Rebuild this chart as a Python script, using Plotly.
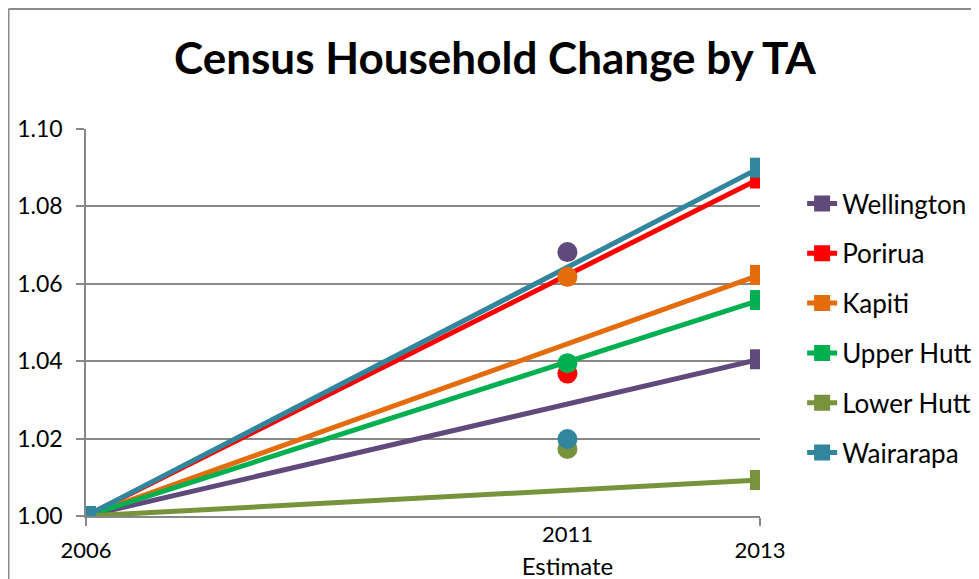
import plotly.graph_objects as go

# ---- data ----
series = ["Wellington", "Porirua", "Kapiti", "Upper Hutt", "Lower Hutt", "Wairarapa"]
colors = ["#604A7B", "#FF0000", "#E46C0A", "#00B050", "#77933C", "#31859C"]
census_years = [2006, 2013]
census_values = {
    "Wellington": [1.000, 1.0405],
    "Porirua": [1.000, 1.0872],
    "Kapiti": [1.000, 1.0623],
    "Upper Hutt": [1.000, 1.0558],
    "Lower Hutt": [1.000, 1.0093],
    "Wairarapa": [1.000, 1.0900],
}
estimate_year = [2011]
estimate_values = {
    "Wellington": [1.0682],
    "Porirua": [1.0368],
    "Kapiti": [1.0618],
    "Upper Hutt": [1.0395],
    "Lower Hutt": [1.0173],
    "Wairarapa": [1.0199],
}
y_ticks = [1.00, 1.02, 1.04, 1.06, 1.08, 1.10]
x_main_ticks = [2006, 2013]
x_main_labels = ["2006", "2013"]
x_est_ticks = [2011]
x_est_labels = ["2011"]
x_est_sub_labels = ["Estimate"]

FONT = "Lato"
GRID = "#878787"

fig = go.Figure()
for name, col in zip(series, colors):
    fig.add_trace(go.Scatter(
        x=census_years, y=census_values[name], name=name, mode="lines+markers",
        line=dict(color=col, width=5),
        marker=dict(symbol="square", size=20, color=col),
        legendgroup=name, hoverinfo="skip",
    ))
for name, col in zip(series, colors):
    fig.add_trace(go.Scatter(
        x=estimate_year, y=estimate_values[name], name=name + " estimate",
        mode="markers", marker=dict(symbol="circle", size=20, color=col),
        showlegend=False, xaxis="x2", yaxis="y", hoverinfo="skip",
    ))
# invisible carrier so the "Estimate" label axis is drawn
fig.add_trace(go.Scatter(
    x=estimate_year, y=estimate_values[series[0]], mode="markers",
    marker=dict(opacity=0, size=1), showlegend=False, xaxis="x3", yaxis="y", hoverinfo="skip",
))

fig.update_layout(
    width=971, height=571,
    margin=dict(l=78, r=219, t=121, b=63, autoexpand=False),
    paper_bgcolor="white", plot_bgcolor="white",
    font=dict(family=FONT, color="#000000", size=22),
    title=dict(text="<b>Census Household Change by TA</b>", x=0.5015, xanchor="center",
               y=0.9116, yanchor="middle", font=dict(family=FONT, size=44, color="#000000")),
    xaxis=dict(range=[2006, 2013], tickmode="array", tickvals=x_main_ticks, ticktext=x_main_labels,
               showgrid=False, zeroline=False, showline=True, linecolor=GRID, linewidth=1.5,
               ticks="outside", ticklen=8, tickcolor=GRID, tickwidth=1.5, automargin=False,
               ticklabelstandoff=6, tickfont=dict(size=22, family=FONT, color="#000000")),
    xaxis2=dict(range=[2006, 2013], overlaying="x", matches="x", side="bottom", anchor="y",
                tickmode="array", tickvals=x_est_ticks, ticktext=x_est_labels,
                showgrid=False, zeroline=False, showline=False, ticks="", ticklen=0,
                automargin=False, ticklabelstandoff=3,
                tickfont=dict(size=22, family=FONT, color="#000000")),
    xaxis3=dict(range=[2006, 2013], overlaying="x", matches="x", side="bottom", anchor="y",
                tickmode="array", tickvals=x_est_ticks, ticktext=x_est_sub_labels,
                showgrid=False, zeroline=False, showline=False, ticks="", ticklen=0,
                automargin=False, ticklabelstandoff=34,
                tickfont=dict(size=24, family=FONT, color="#000000")),
    yaxis=dict(range=[1.0, 1.10], tickmode="array", tickvals=y_ticks,
               tickformat=".2f", showgrid=True, gridcolor=GRID, gridwidth=1.5,
               zeroline=False, showline=True, linecolor=GRID, linewidth=1.5,
               ticks="outside", ticklen=8, tickcolor=GRID, tickwidth=1.5, automargin=False,
               ticklabelstandoff=9, tickfont=dict(size=23, family=FONT, color="#000000")),
    legend=dict(x=1.0625, xanchor="left", y=0.868, yanchor="top",
                font=dict(size=26, family=FONT, color="#000000"),
                tracegroupgap=13, traceorder="grouped", bgcolor="rgba(0,0,0,0)",
                itemclick=False, itemdoubleclick=False),
    shapes=[
        dict(type="line", xref="paper", yref="paper", x0=-0.115, x1=-0.115, y0=-0.5, y1=1.31,
             line=dict(color="#8C8C8C", width=2)),
        dict(type="line", xref="paper", yref="paper", x0=-0.115, x1=1.5, y0=1.31, y1=1.31,
             line=dict(color="#8C8C8C", width=2)),
    ],
)

fig.write_html("out.html")
